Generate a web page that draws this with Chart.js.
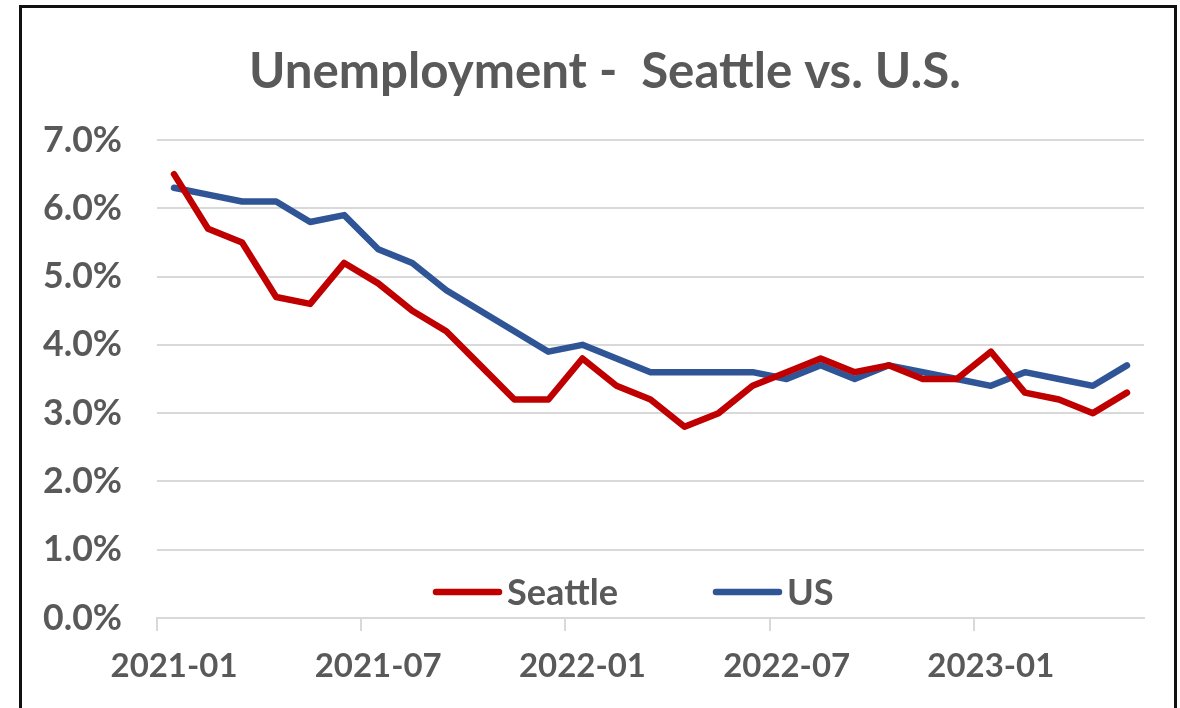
<!DOCTYPE html>
<html>
<head>
<meta charset="utf-8">
<script src="https://cdn.jsdelivr.net/npm/chart.js@4.4.1/dist/chart.umd.min.js"></script>
<style>
html,body{margin:0;padding:0;background:#fff;}
#wrap{width:1180px;height:708px;position:relative;}
</style>
</head>
<body>
<div id="wrap"><canvas id="c" width="1180" height="708"></canvas></div>
<script>
const months = ["2021-01","2021-02","2021-03","2021-04","2021-05","2021-06","2021-07","2021-08","2021-09","2021-10","2021-11","2021-12",
"2022-01","2022-02","2022-03","2022-04","2022-05","2022-06","2022-07","2022-08","2022-09","2022-10","2022-11","2022-12",
"2023-01","2023-02","2023-03","2023-04","2023-05"];
const seattle = [6.5,5.7,5.5,4.7,4.6,5.2,4.9,4.5,4.2,3.7,3.2,3.2,3.8,3.4,3.2,2.8,3.0,3.4,3.6,3.8,3.6,3.7,3.5,3.5,3.9,3.3,3.2,3.0,3.3];
const us = [6.3,6.2,6.1,6.1,5.8,5.9,5.4,5.2,4.8,4.5,4.2,3.9,4.0,3.8,3.6,3.6,3.6,3.6,3.5,3.7,3.5,3.7,3.6,3.5,3.4,3.6,3.5,3.4,3.7];
const yTicks = [0,1,2,3,4,5,6,7];
const titleText = "Unemployment -  Seattle vs. U.S.";
const seriesNames = ["Seattle","US"];

const FONT = "Lato, 'Open Sans', sans-serif";
const TXT = "#595959";

// size fonts so that text widths match the reference
const mctx = document.createElement('canvas').getContext('2d');
function fitSize(text, target, lo, hi){
  mctx.font = "bold 100px " + FONT;
  const s = target / mctx.measureText(text).width * 100;
  return Math.max(lo, Math.min(hi, s));
}
const titleSize = fitSize(titleText, 712, 40, 54);
const legendSize = fitSize("Seattle", 111, 30, 40);
const xSize = fitSize("2021-01", 127, 28, 40);
const ySize = fitSize("7.0%", 79, 24, 40);

const frame = {
  id: 'frame',
  beforeDraw(chart){
    const ctx = chart.ctx;
    ctx.save();
    ctx.fillStyle = '#fff';
    ctx.fillRect(0,0,chart.width,chart.height);
    ctx.strokeStyle = '#111';
    ctx.lineWidth = 3;
    ctx.beginPath();
    ctx.moveTo(20.5, 720);
    ctx.lineTo(20.5, 6.5);
    ctx.lineTo(1175.5, 6.5);
    ctx.lineTo(1175.5, 720);
    ctx.stroke();
    ctx.fillStyle = TXT;
    ctx.font = "bold " + titleSize + "px " + FONT;
    ctx.textAlign = 'center';
    ctx.textBaseline = 'middle';
    ctx.fillText(titleText, 605, 72);
    ctx.restore();
  }
};

const innerLegend = {
  id: 'innerLegend',
  afterDatasetsDraw(chart){
    const ctx = chart.ctx;
    const ds = chart.data.datasets;
    const starts = [433, 713];
    const lineLen = 69, gap = 5;
    const y = 592;
    ctx.save();
    ctx.font = "bold " + legendSize + "px " + FONT;
    ctx.textBaseline = 'middle';
    ds.forEach((d,i)=>{
      const x = starts[i];
      ctx.strokeStyle = d.borderColor;
      ctx.lineWidth = 6.5;
      ctx.lineCap = 'round';
      ctx.beginPath();
      ctx.moveTo(x+3, y);
      ctx.lineTo(x+lineLen-3, y);
      ctx.stroke();
      ctx.fillStyle = TXT;
      ctx.textAlign = 'left';
      ctx.fillText(d.label, x + lineLen + gap, y + 1);
    });
    ctx.restore();
  }
};

new Chart(document.getElementById('c'), {
  type: 'line',
  data: {
    labels: months,
    datasets: [
      {label: seriesNames[0], data: seattle, borderColor: '#C00000', backgroundColor: '#C00000', borderWidth: 6.5, pointRadius: 0, tension: 0, borderCapStyle: 'round', borderJoinStyle: 'round'},
      {label: seriesNames[1], data: us, borderColor: '#2F5597', backgroundColor: '#2F5597', borderWidth: 6.5, pointRadius: 0, tension: 0, borderCapStyle: 'round', borderJoinStyle: 'round'}
    ]
  },
  options: {
    responsive: false,
    animation: false,
    events: [],
    layout: {padding: {left: 20, right: 36, top: 140, bottom: 0}},
    plugins: {
      legend: {display: false},
      tooltip: {enabled: false},
      title: {display: false}
    },
    scales: {
      x: {
        type: 'category',
        offset: true,
        afterFit(scale){ scale.height = 90; },
        border: {display: true, color: '#d9d9d9', width: 2},
        grid: {
          offset: true,
          drawOnChartArea: false,
          drawTicks: true,
          tickLength: 13,
          lineWidth: 2,
          color: (c) => (c.tick && c.index % 6 === 0) ? '#d9d9d9' : 'rgba(0,0,0,0)'
        },
        ticks: {
          autoSkip: false,
          maxRotation: 0,
          minRotation: 0,
          padding: 16,
          color: TXT,
          font: {family: FONT, size: xSize, weight: 'bold'},
          callback: function(v, i){ return i % 6 === 0 ? this.getLabelForValue(v) : ''; }
        }
      },
      y: {
        min: yTicks[0],
        max: yTicks[yTicks.length-1],
        afterFit(scale){ scale.width = 137; },
        afterBuildTicks(scale){ scale.ticks = yTicks.map(v => ({value: v})); },
        border: {display: false},
        grid: {color: '#d9d9d9', lineWidth: 2, drawTicks: false},
        ticks: {
          padding: 35,
          color: TXT,
          font: {family: FONT, size: ySize, weight: 'bold'},
          callback: (v) => v.toFixed(1) + '%'
        }
      }
    }
  },
  plugins: [frame, innerLegend]
});
</script>
</body>
</html>
